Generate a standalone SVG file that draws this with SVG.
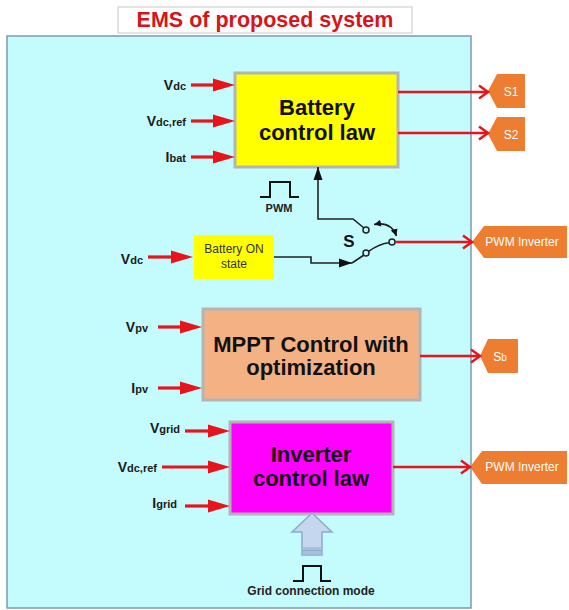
<svg xmlns="http://www.w3.org/2000/svg" width="569" height="610" viewBox="0 0 569 610">
  <style>
    text { font-family: "Liberation Sans", Arial, sans-serif; }
    .block { stroke: #B4B4B4; stroke-width: 3; }
    .big { font-size: 22px; font-weight: bold; fill: #111; text-anchor: middle; }
    .lbl { font-size: 14px; font-weight: bold; fill: #1a1a1a; text-anchor: end; }
    .sub { font-size: 11px; }
    .in { stroke: #E8141C; stroke-width: 3.2; fill: none; marker-end: url(#fat); }
    .out { stroke: #E8141C; stroke-width: 2.5; fill: none; marker-end: url(#open); }
    .tag { fill: #ED7D31; }
    .tagtxt { font-size: 12px; fill: #fff; text-anchor: middle; }
    .wire { stroke: #222; stroke-width: 1.6; fill: none; }
    .pin { fill: #C4FBFC; stroke: #222; stroke-width: 1.5; }
    .pulse { stroke: #111; stroke-width: 2; fill: none; }
  </style>
  <defs>
    <marker id="fat" markerUnits="userSpaceOnUse" markerWidth="22" markerHeight="14" refX="9" refY="7" orient="auto">
      <path d="M0,0.5 L22,7 L0,13.5 Z" fill="#E8141C"/>
    </marker>
    <marker id="open" markerUnits="userSpaceOnUse" markerWidth="14" markerHeight="16" refX="11" refY="8" orient="auto">
      <path d="M2,1.5 L11,8 L2,14.5" fill="none" stroke="#E8141C" stroke-width="2.5"/>
    </marker>
    <marker id="blk" markerUnits="userSpaceOnUse" markerWidth="14" markerHeight="10" refX="13" refY="5" orient="auto-start-reverse">
      <path d="M0,0.5 L13,5 L0,9.5 Z" fill="#111"/>
    </marker>
    <marker id="blks" markerUnits="userSpaceOnUse" markerWidth="8" markerHeight="8" refX="7" refY="4" orient="auto-start-reverse">
      <path d="M0,0.5 L7,4 L0,7.5 Z" fill="#111"/>
    </marker>
  </defs>

  <!-- title -->
  <g id="title">
    <rect x="118" y="7" width="294" height="26" fill="#fff" stroke="#d2d2d2" stroke-width="1.2"/>
    <text x="265" y="27" font-size="21.5" font-weight="bold" fill="#D7141A" text-anchor="middle">EMS of proposed system</text>
  </g>

  <!-- EMS panel -->
  <g id="panel">
    <rect x="7" y="36" width="464" height="572" fill="#C4FBFC" stroke="#7A9AB5" stroke-width="1.5"/>
  </g>

  <!-- battery controller -->
  <g id="battery-control">
    <rect class="block" x="235" y="73" width="163" height="94" fill="#FFFF00"/>
    <text class="big" x="317" y="115">Battery</text>
    <text class="big" x="317" y="140">control law</text>
  </g>
  <g id="battery-inputs">
    <text class="lbl" x="186" y="90">V<tspan class="sub">dc</tspan></text>
    <text class="lbl" x="186" y="126">V<tspan class="sub">dc,ref</tspan></text>
    <text class="lbl" x="186" y="162">I<tspan class="sub">bat</tspan></text>
  </g>
  <g id="pwm-pulse">
    <path class="pulse" d="M260,197 H270 V182 H290 V197 H299"/>
    <text x="279" y="212" font-size="11" font-weight="bold" fill="#222" text-anchor="middle">PWM</text>
  </g>

  <!-- output tags -->
  <g id="tag-s1">
    <polygon class="tag" points="488,91 497,74 525,74 525,108 497,108"/>
    <text class="tagtxt" x="511" y="96">S1</text>
  </g>
  <g id="tag-s2">
    <polygon class="tag" points="488,134 497,117 525,117 525,151 497,151"/>
    <text class="tagtxt" x="511" y="139">S2</text>
  </g>

  <!-- battery ON state -->
  <g id="battery-on">
    <rect x="194" y="235" width="80" height="44" fill="#FFFF00"/>
    <text x="234" y="253" font-size="12" fill="#333" text-anchor="middle">Battery ON</text>
    <text x="234" y="268" font-size="12" fill="#333" text-anchor="middle">state</text>
  </g>
  <g id="battery-on-input">
    <text class="lbl" x="143" y="264">V<tspan class="sub">dc</tspan></text>
  </g>

  <!-- selector switch S -->
  <g id="switch">
    <circle class="pin" cx="366" cy="230" r="3"/>
    <circle class="pin" cx="392" cy="242" r="3"/>
    <circle class="pin" cx="366" cy="253" r="3"/>
    <path class="wire" d="M368.6,251.4 Q380,243.5 389.3,242.8"/>
    <path class="wire" d="M374,224.5 Q391,221 396.5,236" marker-start="url(#blks)" marker-end="url(#blks)" stroke-width="1.3"/>
    <text x="349" y="247" font-size="17" font-weight="bold" fill="#111" text-anchor="middle">S</text>
  </g>
  <g id="tag-pwm-inv1">
    <polygon class="tag" points="472,242 484,226 567,226 567,258 484,258"/>
    <text class="tagtxt" x="522" y="246">PWM Inverter</text>
  </g>

  <!-- MPPT controller -->
  <g id="mppt">
    <rect class="block" x="203" y="309" width="217" height="91" fill="#F4B183"/>
    <text class="big" x="311" y="352" font-size="19.5">MPPT Control with</text>
    <text class="big" x="311" y="375" font-size="19.5">optimization</text>
  </g>
  <g id="mppt-inputs">
    <text class="lbl" x="148" y="332">V<tspan class="sub">pv</tspan></text>
    <text class="lbl" x="148" y="393">I<tspan class="sub">pv</tspan></text>
  </g>
  <g id="tag-sb">
    <polygon class="tag" points="480,356 488,339 518,339 518,373 488,373"/>
    <text class="tagtxt" x="500" y="361" font-size="13">S<tspan font-size="10">b</tspan></text>
  </g>

  <!-- inverter controller -->
  <g id="inverter-control">
    <rect class="block" x="230" y="422" width="163" height="92" fill="#FF00FF"/>
    <text class="big" x="311" y="462" fill="#2A0A3A">Inverter</text>
    <text class="big" x="311" y="486" fill="#2A0A3A">control law</text>
  </g>
  <g id="inverter-inputs">
    <text class="lbl" x="180" y="433" font-size="15">V<tspan class="sub" font-size="12">grid</tspan></text>
    <text class="lbl" x="157" y="472">V<tspan class="sub">dc,ref</tspan></text>
    <text class="lbl" x="177" y="508">I<tspan class="sub" font-size="12">grid</tspan></text>
  </g>
  <g id="tag-pwm-inv2">
    <polygon class="tag" points="470,467 482,451 567,451 567,484 482,484"/>
    <text class="tagtxt" x="522" y="471">PWM Inverter</text>
  </g>

  <!-- grid connection mode command -->
  <g id="grid-mode">
    <polygon points="312,513 332,532 322,532 322,555 302,555 302,532 292,532" fill="#C5D7EE" stroke="#8FAACC" stroke-width="1.5"/>
    <rect x="302.8" y="547" width="18.4" height="7.3" fill="#A9C0DD"/>
    <line x1="302" y1="550.5" x2="322" y2="550.5" stroke="#8FAACC" stroke-width="1"/>
    <path class="pulse" d="M293,581 H303 V566 H321 V581 H331"/>
    <text x="311" y="595" font-size="12" font-weight="bold" fill="#222" text-anchor="middle">Grid connection mode</text>
  </g>

  <!-- connectors -->
  <g id="connectors">
    <line class="in" x1="191" y1="85" x2="222" y2="85"/>
    <line class="in" x1="191" y1="121" x2="222" y2="121"/>
    <line class="in" x1="191" y1="157" x2="222" y2="157"/>
    <line class="out" x1="398" y1="92" x2="488" y2="92"/>
    <line class="out" x1="398" y1="133" x2="488" y2="133"/>
    <path class="wire" d="M364,228 L353,219 H318 V167" marker-end="url(#blk)"/>
    <line class="in" x1="148" y1="257" x2="180" y2="257"/>
    <path class="wire" d="M274,257 H311 V263 H352" marker-end="url(#blk)"/>
    <line class="wire" x1="352" y1="263" x2="364" y2="255"/>
    <line class="out" x1="395" y1="242" x2="472" y2="242"/>
    <line class="in" x1="158" y1="327" x2="189" y2="327"/>
    <line class="in" x1="158" y1="388" x2="189" y2="388"/>
    <line class="out" x1="420" y1="356" x2="480" y2="356" stroke-width="3"/>
    <line class="in" x1="185" y1="431" x2="217" y2="431"/>
    <line class="in" x1="162" y1="467" x2="217" y2="467"/>
    <line class="in" x1="185" y1="506" x2="217" y2="506"/>
    <line class="out" x1="393" y1="467" x2="470" y2="467"/>
  </g>
</svg>
